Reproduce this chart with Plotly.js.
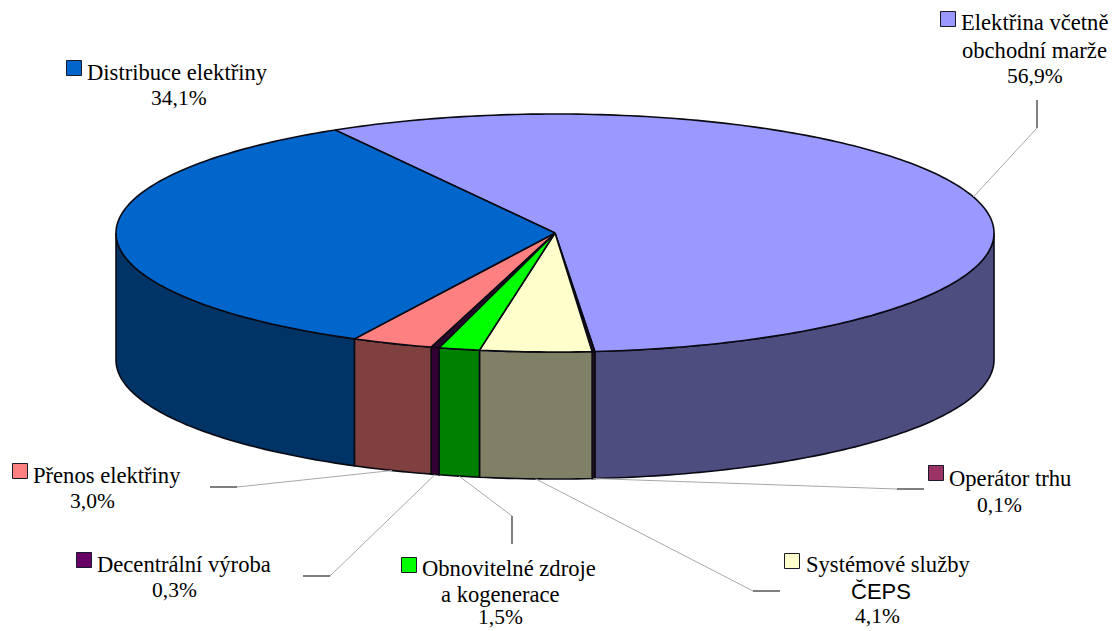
<!DOCTYPE html>
<html>
<head>
<meta charset="utf-8">
<script src="https://cdn.plot.ly/plotly-3.0.1.min.js"></script>
<style>html,body{margin:0;padding:0;background:#fff}#chart{width:1112px;height:631px}</style>
</head>
<body>
<div id="chart"></div>
<script>
// Data, clockwise from the first slice
const categories = ["Elektřina včetně obchodní marže","Operátor trhu","Systémové služby ČEPS","Obnovitelné zdroje a kogenerace","Decentrální výroba","Přenos elektřiny","Distribuce elektřiny"];
const shares = [56.9,0.1,4.1,1.5,0.3,3.0,34.1];
const labelLines = [["Elektřina včetně","obchodní marže"],["Operátor trhu"],["Systémové služby","ČEPS"],["Obnovitelné zdroje","a kogenerace"],["Decentrální výroba"],["Přenos elektřiny"],["Distribuce elektřiny"]];
const keyColors = ["#9999FF","#993366","#FFFFCC","#00FF00","#660066","#FF8080","#0066CC"];
const topColors = ["#9999FF","#2A1020","#FFFFCC","#00FF00","#2A0A2A","#FF8080","#0066CC"];
const sideColors = ["#4D4D80","#2A1020","#808066","#008000","#330033","#804040","#003366"];

// Geometry of the tilted pie (axis units = pixels)
const cx=555, cy=233, rx=439, ry=119, depth=127, startDeg=-30.05;
const pt=(deg,dz=0)=>{const r=deg*Math.PI/180;return [cx+rx*Math.sin(r), cy-ry*Math.cos(r)+dz];};
const arc=(a,b,dz=0)=>{const n=Math.max(2,Math.ceil(Math.abs(b-a)/1)+1),o=[];for(let i=0;i<n;i++)o.push(pt(a+(b-a)*i/(n-1),dz));return o;};

let acc=startDeg;
const spans=shares.map(v=>{const a=acc;acc+=v*3.6;return [a,acc];});
const traces=[];
const poly=(pts,fill,name)=>traces.push({type:"scatter",mode:"lines",x:pts.map(p=>p[0]),y:pts.map(p=>p[1]),fill:"toself",fillcolor:fill,line:{color:"#0a0a14",width:1.6,simplify:false},name,hoverinfo:"name",showlegend:false});

// Front wall (parametric angles 90..270)
spans.forEach(([a,b],i)=>{
  const lo=Math.max(a,90), hi=Math.min(b,270);
  if(hi>lo) poly([...arc(lo,hi),...arc(hi,lo,depth),pt(lo)],sideColors[i],categories[i]);
});
// Top face
spans.forEach(([a,b],i)=>{
  poly([[cx,cy],...arc(a,b),[cx,cy]],topColors[i],categories[i]);
});

// Leader lines: start on the slice's mid angle; elbow and end per label
const leaderLayout=[
 {dz:0,  elbow:[1037,128],end:[1037,100]},
 {dz:127,elbow:[897,489], end:[924,489]},
 {dz:127,elbow:[753,591], end:[780,591]},
 {dz:127,elbow:[512,516], end:[512,544]},
 {dz:127,elbow:[330,576], end:[303,576]},
 {dz:127,elbow:[237,487], end:[210,487]},
 null];
leaderLayout.forEach((l,i)=>{
  if(!l) return;
  const s=pt((spans[i][0]+spans[i][1])/2,l.dz);
  traces.push({type:"scatter",mode:"lines",x:[s[0],l.elbow[0]],y:[s[1],l.elbow[1]],line:{color:"#a8a8a8",width:1},hoverinfo:"skip",showlegend:false});
  traces.push({type:"scatter",mode:"lines",x:[l.elbow[0],l.end[0]],y:[l.elbow[1],l.end[1]],line:{color:"#2a2a2a",width:1.2},hoverinfo:"skip",showlegend:false});
});

// Label placement
const labelLayout=[
 {key:[948,19], lines:[[1034,22],[1034,50]],pct:[1035,76]},
 {key:[936,473],lines:[[1010,478]],pct:[999,505]},
 {key:[792,561],lines:[[888,564],[881,591]],pct:[877,616]},
 {key:[409,565],lines:[[509,568],[500,594]],pct:[500,617]},
 {key:[84,560], lines:[[184,564]],pct:[174,590]},
 {key:[20,471], lines:[[107,475]],pct:[92,501]},
 {key:[74,68],  lines:[[177,72]],pct:[179,98]}];
const annotations=[];
const serif="'Liberation Serif','Times New Roman',serif";
const txt=(text,p,family,size)=>annotations.push({text,x:p[0],y:p[1],xref:"x",yref:"y",xanchor:"center",yanchor:"middle",showarrow:false,borderpad:0,font:{family,size,color:"#000"}});
labelLayout.forEach((l,i)=>{
  labelLines[i].forEach((t,j)=>t==="ČEPS"?txt(t,l.lines[j],"'Liberation Sans',Arial,sans-serif",22):txt(t,l.lines[j],serif,22.6));
  txt(shares[i].toFixed(1).replace(".",",")+"%",l.pct,serif,21.5);
  traces.push({type:"scatter",mode:"markers",x:[l.key[0]],y:[l.key[1]],marker:{symbol:"square",size:15,color:keyColors[i],line:{color:"#1a1a2a",width:1}},name:categories[i],hoverinfo:"name",showlegend:false});
});

const axis={visible:false,fixedrange:true,showgrid:false,zeroline:false};
Plotly.newPlot("chart",traces,{
  width:1112,height:631,margin:{l:0,r:0,t:0,b:0},
  paper_bgcolor:"#fff",plot_bgcolor:"#fff",showlegend:false,
  xaxis:{...axis,range:[0,1112]},yaxis:{...axis,range:[631,0]},
  annotations
},{displayModeBar:false,staticPlot:true});
</script>
</body>
</html>
